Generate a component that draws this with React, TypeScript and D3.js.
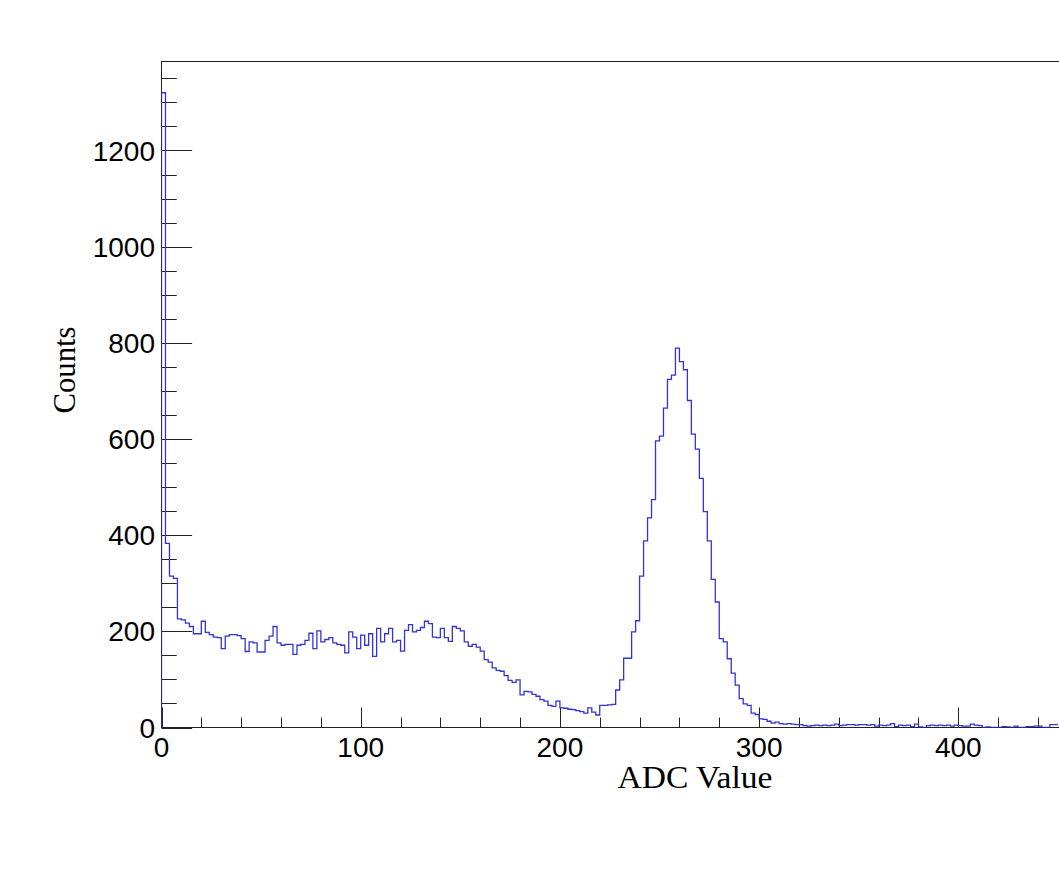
import React from 'react';
import * as d3 from 'd3';

const BIN_WIDTH = 2;

// Histogram counts per 2-unit ADC bin (bins 0..224, i.e. ADC 0..450)
const counts: number[] = [
  1320, 383, 315, 310, 226, 224, 217, 210, 195, 195,
  221, 198, 193, 188, 187, 164, 190, 193, 193, 191,
  185, 158, 178, 176, 157, 157, 181, 190, 210, 176,
  171, 173, 173, 152, 171, 173, 181, 196, 164, 201,
  178, 183, 187, 176, 173, 171, 155, 199, 188, 164,
  192, 171, 195, 148, 206, 178, 195, 206, 178, 181,
  159, 202, 214, 199, 202, 208, 221, 216, 188, 187,
  206, 187, 179, 210, 206, 201, 178, 169, 173, 167,
  159, 141, 136, 124, 119, 117, 108, 98, 94, 99,
  68, 75, 74, 69, 65, 58, 55, 46, 44, 55,
  41, 40, 38, 37, 35, 33, 30, 41, 32, 26,
  46, 46, 47, 48, 78, 99, 144, 144, 199, 222,
  315, 388, 436, 474, 596, 606, 664, 724, 733, 789,
  761, 744, 680, 610, 579, 518, 449, 388, 308, 261,
  185, 178, 143, 113, 88, 60, 49, 46, 30, 27,
  18, 17, 13, 9, 11, 8, 7, 8, 7, 6,
  6, 4, 3, 4, 5, 4, 5, 4, 5, 7,
  4, 5, 6, 6, 5, 6, 6, 5, 6, 3,
  5, 4, 5, 8, 2, 5, 4, 5, 2, 7,
  1, 0, 4, 5, 4, 5, 4, 5, 3, 5,
  4, 3, 3, 7, 5, 4, 0, 1, 0, 0,
  0, 2, 1, 0, 3, 0, 0, 2, 2, 3,
  3, 0, 0, 6, 6,
];

const xLabelTicks = [0, 100, 200, 300, 400];
const yMajorTicks = [0, 200, 400, 600, 800, 1000, 1200];
const xTitle = 'ADC Value';
const yTitle = 'Counts';

export default function App() {
  const W = 1059;
  const H = 881;
  const x = d3.scaleLinear().domain([0, 512]).range([161.5, 161.5 + 512 * 1.992]);
  const y = d3.scaleLinear().domain([0, 1385]).range([727.5, 61.5]);
  const [x0, x1] = x.range();
  const [yb, yt] = y.range();

  const pts: [number, number][] = [[x(0), y(0)]];
  counts.forEach((c, i) => {
    pts.push([x(i * BIN_WIDTH), y(c)]);
    pts.push([x((i + 1) * BIN_WIDTH), y(c)]);
  });
  const path = d3.line()(pts) || '';

  const yMinor = d3.range(0, 1385, 50);
  const xMinor = d3.range(0, 513, 20);
  const yMajLen = 30.6;
  const xMajLen = 20;

  const font = 'Liberation Sans, Arial, Helvetica, sans-serif';
  const serif = 'Liberation Serif, Times New Roman, Times, serif';

  return (
    <svg width={W} height={H} style={{ position: 'absolute', left: 0, top: 0, background: '#fff' }}>
      <rect x={0} y={0} width={W} height={H} fill="#fff" />
      <defs>
        <clipPath id="frame">
          <rect x={x0} y={yt} width={x1 - x0} height={yb - yt} />
        </clipPath>
      </defs>
      {/* frame */}
      <rect x={x0} y={yt} width={x1 - x0} height={yb - yt} fill="none" stroke="#222" strokeWidth={1} />
      {/* y ticks */}
      {yMinor.map((v) => {
        const major = v % 200 === 0;
        return (
          <line key={'yt' + v} x1={x0} x2={x0 + (major ? yMajLen : yMajLen / 2)} y1={Math.round(y(v)) + 0.5} y2={Math.round(y(v)) + 0.5} stroke="#222" strokeWidth={1} />
        );
      })}
      {/* x ticks */}
      {xMinor.map((v) => {
        const major = v % 100 === 0;
        return (
          <line key={'xt' + v} x1={Math.round(x(v)) + 0.5} x2={Math.round(x(v)) + 0.5} y1={yb} y2={yb - (major ? xMajLen : xMajLen / 2)} stroke="#222" strokeWidth={1} />
        );
      })}
      {/* histogram */}
      <path d={path} fill="none" stroke="#3333d6" strokeWidth={1.3} clipPath="url(#frame)" />
      {/* y labels */}
      {yMajorTicks.map((v) => (
        <text key={'yl' + v} x={155} y={y(v)} dy="0.36em" textAnchor="end" fontFamily={font} fontSize={28} fill="#000">
          {v}
        </text>
      ))}
      {/* x labels */}
      {xLabelTicks.map((v) => (
        <text key={'xl' + v} x={x(v)} y={757} textAnchor="middle" fontFamily={font} fontSize={28} fill="#000">
          {v}
        </text>
      ))}
      <text x={695} y={788} textAnchor="middle" fontFamily={serif} fontSize={31} textLength={155} lengthAdjust="spacingAndGlyphs" fill="#000">
        {xTitle}
      </text>
      <text transform="translate(75,370) rotate(-90)" textAnchor="middle" fontFamily={serif} fontSize={31} textLength={87} lengthAdjust="spacingAndGlyphs" fill="#000">
        {yTitle}
      </text>
    </svg>
  );
}
